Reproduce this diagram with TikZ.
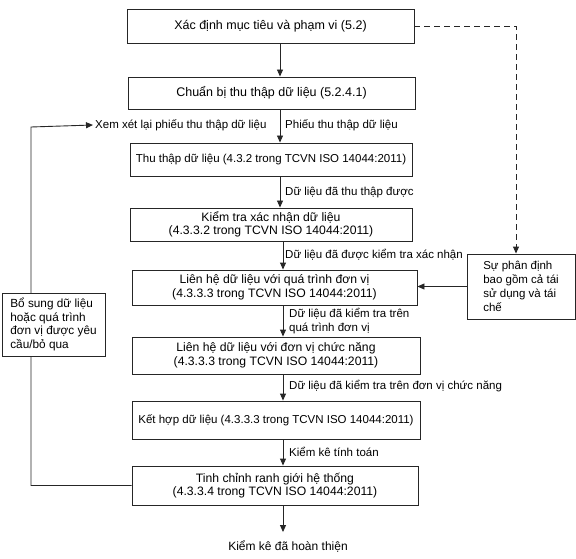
\documentclass[tikz,border=0pt]{standalone}
\usepackage{fontspec}
\setmainfont{Liberation Sans}
\usetikzlibrary{arrows.meta,calc}
\begin{document}
\begin{tikzpicture}[x=1pt,y=-1pt,
  box/.style={draw=black!85, line width=0.9pt, fill=white, align=center, inner sep=2pt, font=\fontsize{12.2}{13.5}\selectfont},
  lbl/.style={font=\fontsize{11.5}{13.5}\selectfont, align=left, inner sep=2pt},
  arr/.style={draw=black!85, line width=0.9pt, -{Triangle[length=7pt,width=6pt]}},
  dashedarr/.style={arr, dash pattern=on 6pt off 4pt}]
\useasboundingbox (0,0) rectangle (576,559);
% main boxes
\node[box, minimum width=287, minimum height=34, font=\fontsize{12.5}{14}\selectfont] (b1) at (270.5,26) {Xác định mục tiêu và phạm vi (5.2)};
\node[box, minimum width=287, minimum height=32, font=\fontsize{12.5}{14}\selectfont] (b2) at (271.5,93) {Chuẩn bị thu thập dữ liệu (5.2.4.1)};
\node[box, minimum width=282, minimum height=33, font=\fontsize{11.5}{13.5}\selectfont] (b3) at (271,159.5) {Thu thập dữ liệu (4.3.2 trong TCVN ISO 14044:2011)};
\node[box, minimum width=282, minimum height=33] (b4) at (271,224.5) {Kiểm tra xác nhận dữ liệu\\(4.3.3.2 trong TCVN ISO 14044:2011)};
\node[box, minimum width=285, minimum height=35] (b5) at (274.5,287.5) {Liên hệ dữ liệu với quá trình đơn vị\\(4.3.3.3 trong TCVN ISO 14044:2011)};
\node[box, minimum width=288, minimum height=37] (b6) at (276,355.5) {Liên hệ dữ liệu với đơn vị chức năng\\(4.3.3.3 trong TCVN ISO 14044:2011)};
\node[box, minimum width=288, minimum height=38, font=\fontsize{11.5}{13.5}\selectfont] (b7) at (276,420) {Kết hợp dữ liệu (4.3.3.3 trong TCVN ISO 14044:2011)};
\node[box, minimum width=286, minimum height=39] (b8) at (275,485.5) {Tinh chỉnh ranh giới hệ thống\\(4.3.3.4 trong TCVN ISO 14044:2011)};
% labels
\node[lbl, anchor=west] (xem) at (93,125) {Xem xét lại phiếu thu thập dữ liệu};
\node[lbl, anchor=west] (phieu) at (283,125) {Phiếu thu thập dữ liệu};
\node[lbl, anchor=west] (d1) at (283,193) {Dữ liệu đã thu thập được};
\node[lbl, anchor=west] (d2) at (283,255) {Dữ liệu đã được kiểm tra xác nhận};
\node[lbl, anchor=west] (d3) at (287,321) {Dữ liệu đã kiểm tra trên\\quá trình đơn vị};
\node[lbl, anchor=west] (d4) at (287,386) {Dữ liệu đã kiểm tra trên đơn vị chức năng};
\node[lbl, anchor=west] (d5) at (287,452) {Kiểm kê tính toán};
\node[lbl, font=\fontsize{12}{14}\selectfont] (end) at (288,547) {Kiểm kê đã hoàn thiện};
% right box
\node[box, align=left, minimum width=108, minimum height=65, font=\fontsize{11.5}{14}\selectfont] (rb) at (521,286.5) {Sự phân định\\bao gồm cả tái\\sử dụng và tái\\chế};
% coordinates
\coordinate (ax1) at (280,0);
\coordinate (ax2) at (283,0);
\coordinate (fb) at (31,127);
\coordinate (dx) at (516,25);
% vertical flow
\draw[arr] (b1.south -| ax1) -- (b2.north -| ax1);
\draw[arr] (b2.south -| ax1) -- (b3.north -| ax1);
\draw[arr] (b3.south -| ax1) -- (b4.north -| ax1);
\draw[arr] (b4.south -| ax2) -- (b5.north -| ax2);
\draw[arr] (b5.south -| ax2) -- (b6.north -| ax2);
\draw[arr] (b6.south -| ax2) -- (b7.north -| ax2);
\draw[arr] (b7.south -| ax2) -- (b8.north -| ax2);
\draw[arr, shorten >=7pt] (b8.south -| ax2) -- (end.north -| ax2);
% feedback loop
\draw[arr] (b8.west) -| (fb) -- (xem.west);
% dashed
\draw[dashedarr] (b1.east) -| (rb.north -| dx);
\draw[arr] (rb.west) -- (rb.west -| b5.east);
% left box (covers the loop line)
\node[box, align=left, minimum width=103, minimum height=63, font=\fontsize{11.8}{13.7}\selectfont] (lb) at (53.5,324.5) {Bổ sung dữ liệu\\hoặc quá trình\\đơn vị được yêu\\cầu/bỏ qua};
\end{tikzpicture}
\end{document}
